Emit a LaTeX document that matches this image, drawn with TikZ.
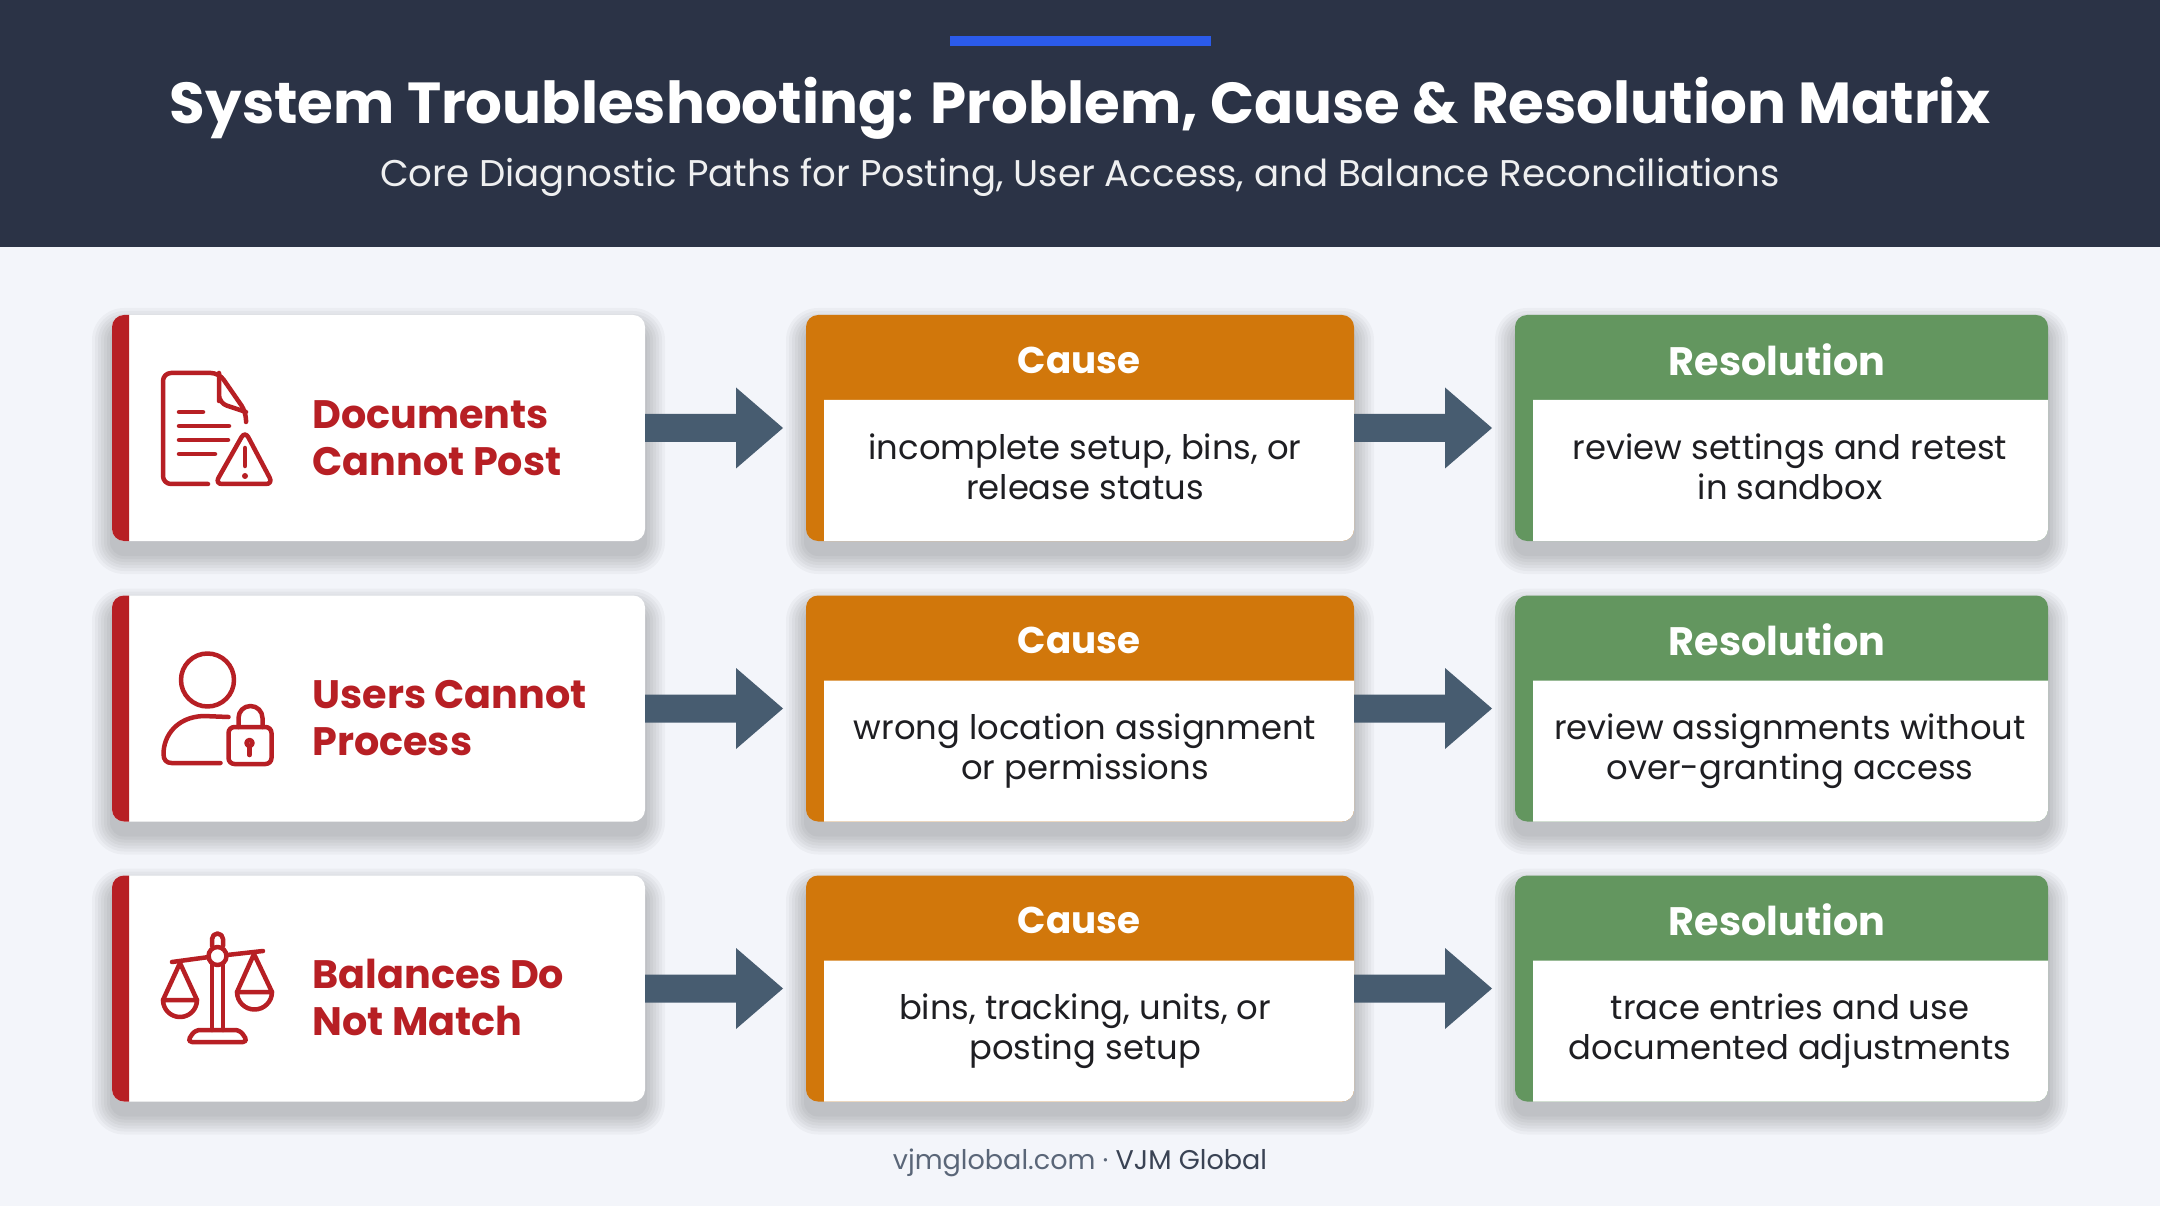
\documentclass[tikz,border=0pt]{standalone}
\usepackage{fontspec}
\setmainfont{Poppins}
\usetikzlibrary{calc,positioning,backgrounds}
\definecolor{bgpage}{HTML}{F3F5FA}
\definecolor{headbg}{HTML}{2B3346}
\definecolor{topline}{HTML}{2B5BEA}
\definecolor{probred}{HTML}{B71F24}
\definecolor{causeorange}{HTML}{D1770B}
\definecolor{resgreen}{HTML}{63965F}
\definecolor{arrowslate}{HTML}{475C70}
\definecolor{bodyink}{HTML}{1E1E22}
\definecolor{footink}{HTML}{5A6678}
\definecolor{footdark}{HTML}{3A4354}
\tikzset{
  every card/.style={
    rectangle,
    rounded corners=0.12cm,
    inner sep=0pt,
    outer sep=0pt,
    minimum height=2.26cm
  },
  prob card/.style={every card,fill=white,minimum width=5.33cm},
  cause card/.style={every card,fill=causeorange,minimum width=5.48cm},
  res card/.style={every card,fill=resgreen,minimum width=5.33cm},
  prob text/.style={anchor=west,align=left,text=probred,font=\fontsize{11.3}{13.4}\selectfont\bfseries},
  head text/.style={text=white,font=\fontsize{10.6}{12}\selectfont\bfseries},
  res head/.style={text=white,font=\fontsize{11.3}{12}\selectfont\bfseries},
  body text/.style={align=center,text=bodyink,font=\fontsize{9.62}{11.35}\selectfont},
  icon line/.style={draw=probred,line width=0.045cm,line cap=round,line join=round},
  flow arrow/.style={fill=arrowslate}
}
% soft shadow under a card, stacked see-through layers
\newcommand{\cardshadow}[1]{
  \foreach \g in {0.20,0.17,0.14,0.11,0.08,0.05,0.02} {
    \fill[black,opacity=0.03,rounded corners=0.12cm+\g cm] ($(#1.south west)+(-\g,-0.13-\g)$) rectangle ($(#1.north east)+(\g,-0.13+\g)$);
  }
}
% white part of a card with a coloured head and left strip
\newcommand{\bodypanel}[1]{
  \fill[white] ($(#1.south west)+(0.18,1.41)$) -- ($(#1.south east)+(0,1.41)$)
    -- ($(#1.south east)+(0,0.12)$) arc[start angle=0,end angle=-90,radius=0.12]
    -- ($(#1.south west)+(0.18,0)$) -- cycle;
}
% red strip on the left of a problem card
\newcommand{\redstrip}[1]{
  \fill[probred] ($(#1.north west)+(0.17,0)$) -- ($(#1.north west)+(0.12,0)$)
    arc[start angle=90,end angle=180,radius=0.12]
    -- ($(#1.south west)+(0,0.12)$) arc[start angle=180,end angle=270,radius=0.12]
    -- ($(#1.south west)+(0.17,0)$) -- cycle;
}
% block arrow between two cards, the tip stops short of the next card
\newcommand{\flowarrow}[2]{
  \fill[flow arrow] ($(#1.east)+(0,0.14)$) -- ($(#1.east)+(0.91,0.14)$) -- ($(#1.east)+(0.91,0.405)$)
    -- ($(#2.west)+(-0.23,0)$) -- ($(#1.east)+(0.91,-0.405)$) -- ($(#1.east)+(0.91,-0.14)$)
    -- ($(#1.east)+(0,-0.14)$) -- cycle;
}
\begin{document}
\begin{tikzpicture}
  \useasboundingbox (0,0) rectangle (21.6,12.06);
  % Page and header
  \begin{scope}[on background layer]
    \fill[bgpage] (0,0) rectangle (21.6,12.06);
  \end{scope}
  \fill[headbg] (0,9.59) rectangle (21.6,12.06);
  \fill[topline] (9.5,11.60) rectangle (12.11,11.70);
  \node (Title) at (10.8,10.975) [text=white,font=\fontsize{16.46}{18}\selectfont\bfseries] {System Troubleshooting: Problem, Cause \& Resolution Matrix};
  \node (Sub) at (10.8,10.29) [text=white!92!headbg,font=\fontsize{10.57}{12}\selectfont] {Core Diagnostic Paths for Posting, User Access, and Balance Reconciliations};

  % Card placement
  \node [prob card] (P1) at (3.785,7.78) {};
  \node [prob card] (P2) at (3.785,4.975) {};
  \node [prob card] (P3) at (3.785,2.175) {};
  \node [cause card] (C1) at (10.80,7.78) {};
  \node [cause card] (C2) at (10.80,4.975) {};
  \node [cause card] (C3) at (10.80,2.175) {};
  \node [res card] (R1) at (17.815,7.78) {};
  \node [res card] (R2) at (17.815,4.975) {};
  \node [res card] (R3) at (17.815,2.175) {};

  \begin{scope}[on background layer]
    \cardshadow{P1}
    \cardshadow{P2}
    \cardshadow{P3}
    \cardshadow{C1}
    \cardshadow{C2}
    \cardshadow{C3}
    \cardshadow{R1}
    \cardshadow{R2}
    \cardshadow{R3}
  \end{scope}

  \redstrip{P1}
  \redstrip{P2}
  \redstrip{P3}
  \bodypanel{C1}
  \bodypanel{C2}
  \bodypanel{C3}
  \bodypanel{R1}
  \bodypanel{R2}
  \bodypanel{R3}

  % Problem labels
  \node (PT1) at (3.0,7.675) [prob text] {Documents\\Cannot Post};
  \node (PT2) at (3.0,4.875) [prob text] {Users Cannot\\Process};
  \node (PT3) at (3.0,2.085) [prob text] {Balances Do\\Not Match};

  % Head labels
  \node (CH1) at (10.79,8.46) [head text] {Cause};
  \node (CH2) at (10.79,5.66) [head text] {Cause};
  \node (CH3) at (10.79,2.86) [head text] {Cause};
  \node (RH1) at (17.77,8.46) [res head] {Resolution};
  \node (RH2) at (17.77,5.66) [res head] {Resolution};
  \node (RH3) at (17.77,2.86) [res head] {Resolution};

  % Body labels
  \node (CT1) at (10.85,7.39) [body text] {incomplete setup, bins, or\\release status};
  \node (CT2) at (10.85,4.55) [body text] {wrong location assignment\\or permissions};
  \node (CT3) at (10.85,1.75) [body text] {bins, tracking, units, or\\posting setup};
  \node (RT1) at (17.90,7.39) [body text] {review settings and retest\\in sandbox};
  \node (RT2) at (17.90,4.55) [body text] {review assignments without\\over-granting access};
  \node (RT3) at (17.90,1.75) [body text] {trace entries and use\\documented adjustments};

  % Arrows
  \flowarrow{P1}{C1}
  \flowarrow{P2}{C2}
  \flowarrow{P3}{C3}
  \flowarrow{C1}{R1}
  \flowarrow{C2}{R2}
  \flowarrow{C3}{R3}

  % Document icon
  \begin{scope}[xshift=0.01cm]
    \draw[icon line,rounded corners=0.08cm] (2.07,7.22) -- (1.62,7.22) -- (1.62,8.33) -- (2.18,8.33) -- (2.45,7.94) -- (2.45,7.84);
    \draw[icon line,rounded corners=0.08cm] (2.18,8.33) -- (2.18,8.13) -- (2.18,8.03) -- (2.45,7.94);
    \draw[icon line] (1.78,7.94) -- (2.02,7.94);
    \draw[icon line] (1.78,7.80) -- (2.28,7.80);
    \draw[icon line] (1.78,7.66) -- (2.27,7.66);
    \draw[icon line] (1.78,7.52) -- (2.14,7.52);
    \draw[icon line,rounded corners=0.07cm] (2.44,7.75) -- (2.72,7.22) -- (2.14,7.22) -- cycle;
    \draw[icon line] (2.44,7.58) -- (2.44,7.40);
    \fill[probred] (2.44,7.30) circle (0.03);
  \end{scope}

  % User and lock icon
  \begin{scope}[xshift=-0.015cm]
    \draw[icon line] (2.09,5.26) circle (0.265);
    \draw[icon line] (2.30,4.89) -- (2.05,4.90) .. controls (1.78,4.89) and (1.65,4.70) .. (1.65,4.52) .. controls (1.65,4.46) and (1.68,4.43) .. (1.73,4.43) -- (2.22,4.43);
    \draw[icon line,rounded corners=0.06cm] (2.30,4.42) rectangle (2.73,4.79);
    \draw[icon line] (2.40,4.79) -- (2.40,4.88) arc[start angle=180,end angle=0,radius=0.12] -- (2.64,4.79);
    \draw[icon line] (2.51,4.63) circle (0.03);
    \draw[icon line] (2.51,4.60) -- (2.51,4.51);
  \end{scope}

  % Scales icon
  \draw[icon line] (2.12,1.76) -- (2.12,2.41);
  \draw[icon line] (2.23,1.76) -- (2.23,2.41);
  \draw[icon line] (2.12,2.60) -- (2.12,2.67) arc[start angle=180,end angle=0,radius=0.055] -- (2.23,2.60);
  \draw[icon line] (2.175,2.50) circle (0.09);
  \draw[icon line] (1.72,2.44) -- (2.09,2.49);
  \draw[icon line] (2.27,2.51) -- (2.63,2.55);
  \draw[icon line] (1.63,2.06) -- (1.80,2.43) -- (1.97,2.06);
  \draw[icon line] (1.63,2.06) -- (1.97,2.06) arc[start angle=0,end angle=-180,radius=0.17] -- cycle;
  \draw[icon line] (2.37,2.14) -- (2.54,2.52) -- (2.72,2.14);
  \draw[icon line] (2.37,2.14) -- (2.72,2.14) arc[start angle=0,end angle=-180,radius=0.175] -- cycle;
  \draw[icon line,rounded corners=0.05cm] (1.87,1.64) -- (2.48,1.64) -- (2.40,1.76) -- (1.95,1.76) -- cycle;

  % Footer
  \node (Foot) at (10.8,0.43) [text=footink,font=\fontsize{7.7}{10}\selectfont] {vjmglobal.com · \textcolor{footdark}{VJM Global}};
\end{tikzpicture}
\end{document}
